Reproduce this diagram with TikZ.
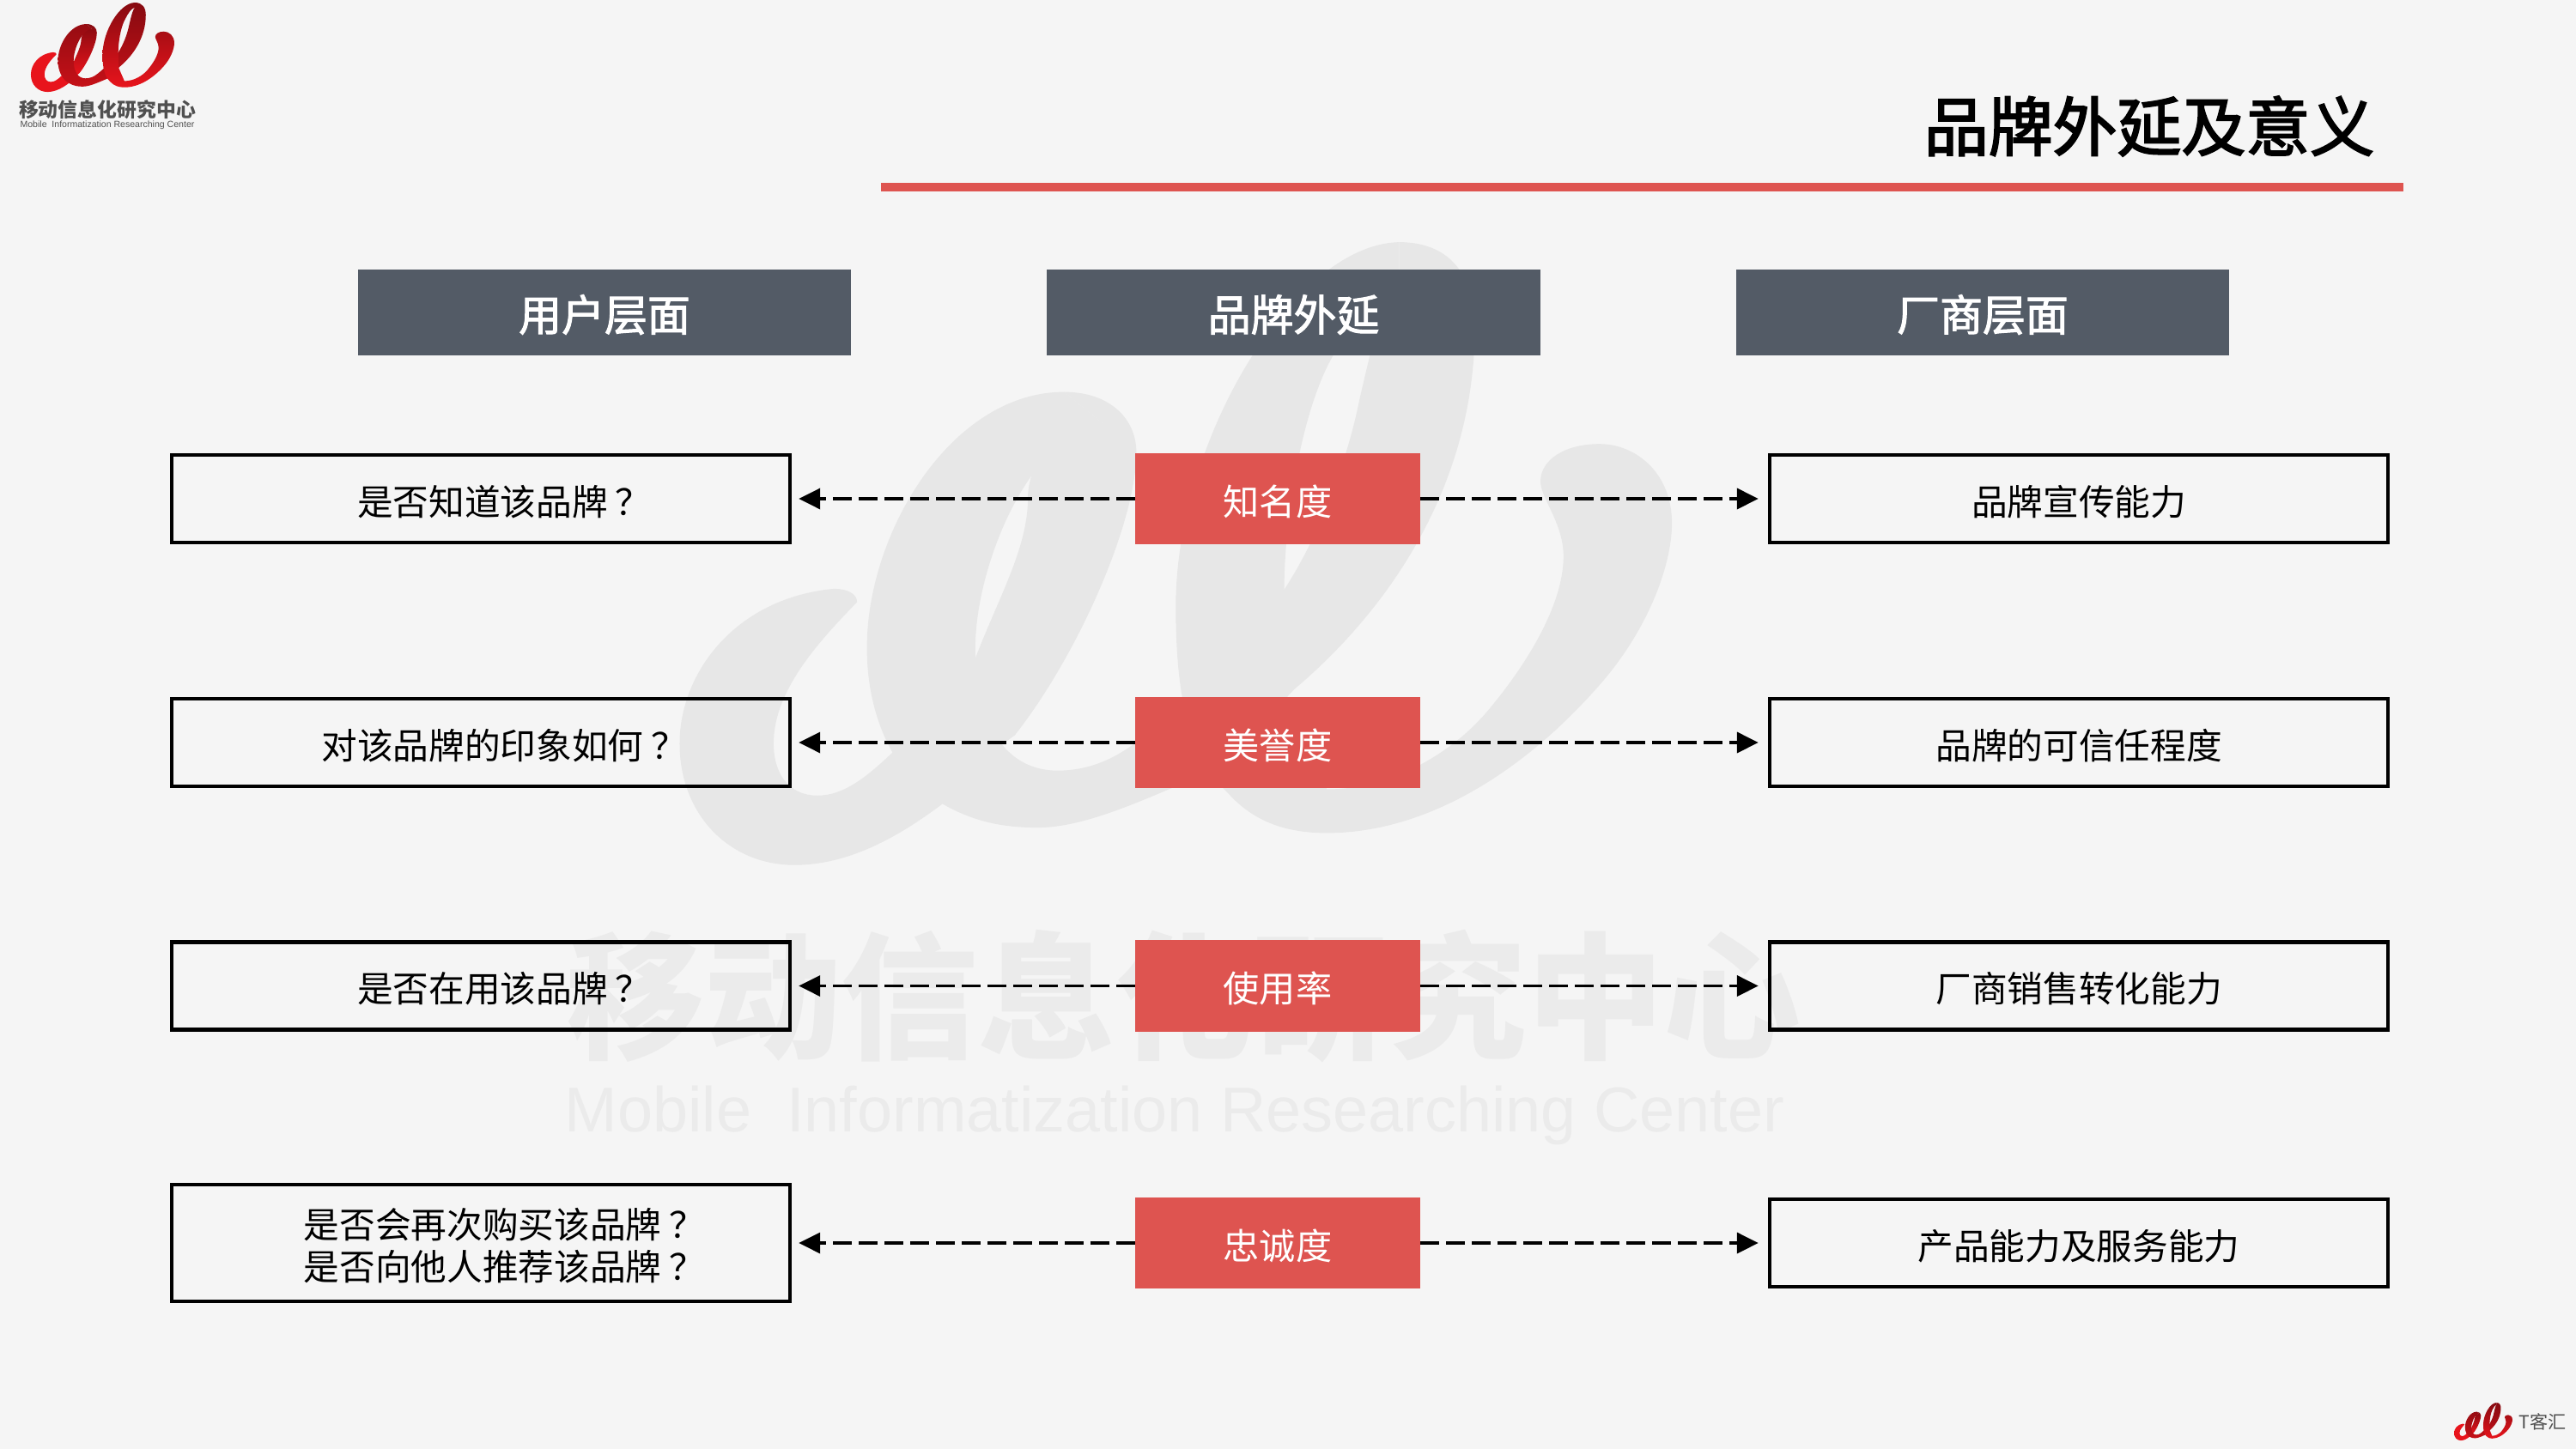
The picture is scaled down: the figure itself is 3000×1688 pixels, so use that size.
\documentclass[tikz,border=0pt]{standalone}
\usepackage{fontspec}
\usetikzlibrary{arrows.meta}
\setmainfont{Noto Sans CJK SC}
\newfontfamily\arialf{Liberation Sans}
\definecolor{pagebg}{HTML}{F5F5F5}
\definecolor{brandred}{HTML}{DE5450}
\definecolor{slatehead}{HTML}{535B66}
\definecolor{wmgray}{HTML}{E7E7E7}
\definecolor{wmtext}{HTML}{EBEBEB}
\definecolor{logotext}{HTML}{505050}
\definecolor{darkrib}{HTML}{860A10}
\definecolor{brightrib}{HTML}{E8141C}
\newcommand\bandA{(285,890) .. controls (285,870) and (270,858) .. (250,858) .. controls (100,880) and (15,1060) .. (15,1230) .. controls (15,1400) and (90,1522) .. (190,1522) .. controls (280,1522) and (360,1440) .. (415,1375) -- (340,1250) .. controls (300,1310) and (265,1355) .. (225,1355) .. controls (180,1355) and (158,1300) .. (158,1230) .. controls (158,1100) and (230,980) .. (285,890) -- cycle}
\newcommand\bandB{(600,385) .. controls (430,385) and (300,720) .. (300,1000) .. controls (300,1180) and (350,1320) .. (415,1375) .. controls (465,1420) and (510,1432) .. (560,1432) .. controls (640,1432) and (740,1350) .. (835,1290) -- (950,1100) .. controls (1100,900) and (1225,600) .. (1225,230) .. controls (1225,110) and (1190,25) .. (1110,25) -- (1110,105) .. controls (1085,150) and (1065,300) .. (1050,400) .. controls (1030,560) and (985,740) .. (935,860) .. controls (880,990) and (800,1110) .. (720,1215) .. controls (680,1265) and (640,1295) .. (590,1295) .. controls (510,1295) and (465,1180) .. (465,1000) .. controls (465,800) and (550,480) .. (660,462) -- cycle}
\newcommand\bandC{(600,385) .. controls (670,385) and (710,450) .. (710,530) .. controls (710,700) and (620,1020) .. (525,1210) -- (490,1250) -- (440,1100) -- (465,1025) .. controls (500,880) and (545,760) .. (545,640) .. controls (545,540) and (600,462) .. (660,462) -- cycle}
\newcommand\bandD{(1110,25) .. controls (950,30) and (770,500) .. (770,900) .. controls (770,1120) and (790,1260) .. (850,1350) .. controls (890,1420) and (940,1445) .. (1000,1445) .. controls (1150,1445) and (1300,1300) .. (1420,1080) .. controls (1490,950) and (1525,800) .. (1525,700) .. controls (1525,580) and (1470,510) .. (1415,510) .. controls (1360,510) and (1325,550) .. (1325,600) .. controls (1325,640) and (1360,700) .. (1360,780) .. controls (1360,900) and (1300,1050) .. (1240,1160) .. controls (1190,1250) and (1100,1340) .. (1000,1340) -- (940,1120) -- (935,860) .. controls (935,700) and (960,430) .. (1010,296) .. controls (1040,200) and (1070,130) .. (1110,105) -- cycle}
\newcommand\logoribbon{%
  \shade[top color=brightrib,bottom color=brightrib] \bandA;
  \shade[top color=darkrib,bottom color=brightrib] \bandC;
  \shade[top color=darkrib,bottom color=brightrib!85!black] \bandB;
  \shade[top color=darkrib,bottom color=brightrib] \bandD;
}
% heavier strokes on text: fill and stroke text rendering
\newcommand\fatten[3]{\special{pdf:code q 2 Tr #1 w #2 RG}#3\special{pdf:code Q}}
\tikzset{
  headbox/.style={fill=slatehead,text=white,minimum width=5.74cm,minimum height=.99cm,inner sep=0pt,outer sep=0pt,font=\fontsize{14.2}{16}\selectfont},
  redbox/.style={fill=brandred,text=white,minimum width=3.32cm,minimum height=1.06cm,inner sep=0pt,outer sep=0pt,font=\fontsize{12}{14}\selectfont},
  infobox/.style={draw=black,line width=.042cm,minimum width=7.2cm,minimum height=1.02cm,inner sep=0pt,outer sep=0pt,align=center,font=\fontsize{11.85}{14.2}\selectfont},
  link/.style={draw=black,line width=.036cm,dash pattern=on .22cm off .08cm,-{Triangle[length=.25cm,width=.24cm]}},
  linkleft/.style={link,shorten >=.10cm},
  linkright/.style={link,shorten >=.13cm},
  wmstroke/.style={fill=wmgray,draw=none},
}
\newcommand\tx[1]{\raisebox{-1.85pt}[.85em][.25em]{#1}}
\newcommand\lp{\hspace*{15.5pt}}
\newcommand\qm{\hspace{2.5pt}？}
\begin{document}
\begin{tikzpicture}[x=0.01cm,y=-0.01cm]
\useasboundingbox (0,0) rectangle (3000,1688);
\fill[pagebg] (0,0) rectangle (3000,1688);
% watermark
\begin{scope}[shift={(780,270)},xscale=0.7653,yscale=0.4847]
  \fill[wmstroke] \bandA; \fill[wmstroke] \bandB; \fill[wmstroke] \bandC; \fill[wmstroke] \bandD;
\end{scope}
\node (wmcn) at (1379,1161) [text=wmtext,inner sep=0pt,font=\fontsize{45.4}{50}\bfseries] {移动信息化研究中心};
\node (wmen) at (1368,1299) [text=wmtext,inner sep=0pt,font=\fontsize{21}{24}\arialf] {Mobile\ \ Informatization Researching Center};
% top-left logo
\begin{scope}[shift={(34.3,1.3)},xscale=0.1106,yscale=0.0695]
  \logoribbon
\end{scope}
\node (logocn) at (125,128) [text=logotext,inner sep=0pt,font=\fontsize{6.5}{7}\bfseries] {移动信息化研究中心};
\node (logoen) at (125,146) [text=logotext,inner sep=0pt,font=\fontsize{3}{4}\arialf] {Mobile\ \ Informatization Researching Center};
% bottom-right logo
\begin{scope}[shift={(2857.3,1633.3)},xscale=0.045,yscale=0.0294]
  \logoribbon
\end{scope}
\node (tkh) at (2961,1656) [text=logotext,inner sep=0pt,font=\fontsize{6}{7}\selectfont] {T客汇};
% title
\node (title) at (2503,147) [inner sep=0pt,font=\fontsize{21.3}{24}\selectfont] {\fatten{0.55}{0 0 0}{品牌外延及意义}};
\fill[brandred] (1026,213) rectangle (2799,223);
% headers
\node[headbox] (h1) at (704,364) {\tx{\fatten{0.3}{1 1 1}{用户层面}}};
\node[headbox] (h2) at (1506.5,364) {\tx{\fatten{0.3}{1 1 1}{品牌外延}}};
\node[headbox] (h3) at (2309,364) {\tx{\fatten{0.3}{1 1 1}{厂商层面}}};
% red boxes
\node[redbox] (r1) at (1488,581) {\tx{知名度}};
\node[redbox] (r2) at (1488,865) {\tx{美誉度}};
\node[redbox] (r3) at (1488,1148.5) {\tx{使用率}};
\node[redbox] (r4) at (1488,1448) {\tx{忠诚度}};
% left boxes
\node[infobox] (l1) at (560,581) {\lp\tx{是否知道该品牌\qm}};
\node[infobox] (l2) at (560,865) {\lp\tx{对该品牌的印象如何\qm}};
\node[infobox] (l3) at (560,1148.5) {\lp\tx{是否在用该品牌\qm}};
\node[infobox,minimum height=1.36cm] (l4) at (560,1448) {\lp\tx{是否会再次购买该品牌\qm}\\\lp\tx{是否向他人推荐该品牌\qm}};
% right boxes
\node[infobox] (p1) at (2421,581) {\tx{品牌宣传能力}};
\node[infobox] (p2) at (2421,865) {\tx{品牌的可信任程度}};
\node[infobox] (p3) at (2421,1148.5) {\tx{厂商销售转化能力}};
\node[infobox] (p4) at (2421,1448) {\tx{产品能力及服务能力}};
% connectors
\foreach \i in {1,2,3,4}{
  \draw[linkleft] (r\i.west) -- (l\i.east);
  \draw[linkright] (r\i.east) -- (p\i.west);
}
\end{tikzpicture}
\end{document}
